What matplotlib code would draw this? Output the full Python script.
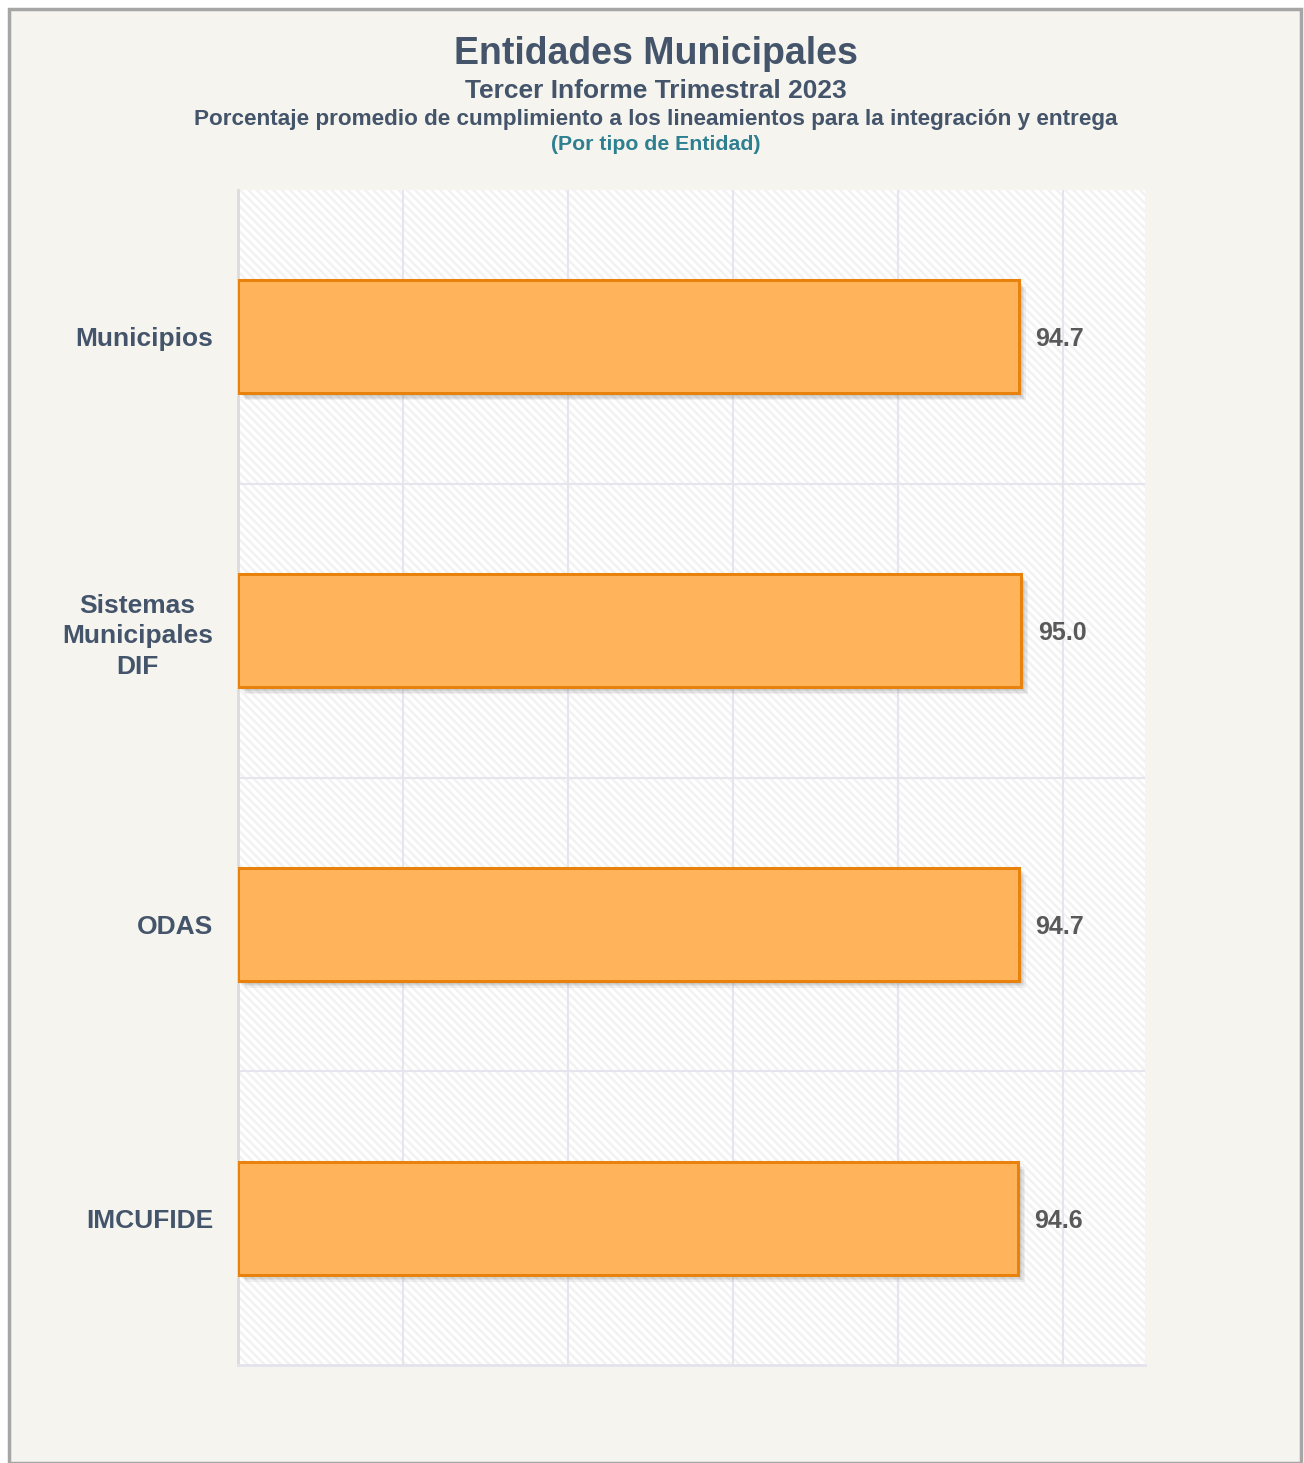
import matplotlib.pyplot as plt
import matplotlib.patheffects as pe
from matplotlib.patches import Rectangle

plt.rcParams['font.family'] = ['Liberation Sans', 'DejaVu Sans']
plt.rcParams['hatch.linewidth'] = 1.8
plt.rcParams['hatch.color'] = '#f2f2f2'

categorias = ['Municipios', 'Sistemas\nMunicipales\nDIF', 'ODAS', 'IMCUFIDE']
valores = [94.7, 95.0, 94.7, 94.6]
etiquetas = ['94.7', '95.0', '94.7', '94.6']

W, H = 1304, 1463
fig = plt.figure(figsize=(W / 100, H / 100), dpi=100)
fig.patch.set_facecolor('white')

# marco exterior
frame = Rectangle((9 / W, 0 / H), (W - 12) / W, (H - 9) / H, transform=fig.transFigure,
                  facecolor='#f5f4ee', edgecolor='#a6a6a6', linewidth=2.5, zorder=-10)
fig.patches.append(frame)

cx = 656 / W
titulo_color = '#44546a'
fig.text(cx, 1 - 54 / H, 'Entidades Municipales', ha='center', va='center',
         fontsize=27, fontweight='bold', color=titulo_color)
fig.text(cx, 1 - 91 / H, 'Tercer Informe Trimestral 2023', ha='center', va='center',
         fontsize=19, fontweight='bold', color=titulo_color)
fig.text(cx, 1 - 120 / H, 'Porcentaje promedio de cumplimiento a los lineamientos para la integración y entrega',
         ha='center', va='center', fontsize=16.2, fontweight='bold', color=titulo_color)
fig.text(cx, 1 - 145 / H, '(Por tipo de Entidad)', ha='center', va='center',
         fontsize=15.3, fontweight='bold', color='#2e8090')

ax = fig.add_axes([238 / W, 1 - 1365 / H, (1145 - 238) / W, (1365 - 190) / H])
ax.set_facecolor('white')
bg = Rectangle((0, 0), 1, 1, transform=ax.transAxes, facecolor='white',
               edgecolor='#f2f2f2', hatch='\\\\\\\\', linewidth=0, zorder=0)
ax.add_patch(bg)

y = list(range(len(categorias)))
bars = ax.barh(y, valores, height=0.385, color='#ffb45c', edgecolor='#e8820c',
               linewidth=2.2, zorder=3)
sombra = [pe.SimplePatchShadow(offset=(d, -d), shadow_rgbFace='#444444', alpha=0.07)
          for d in (1, 2, 3, 4, 5)]
for b in bars:
    b.set_path_effects(sombra + [pe.Normal()])

for yi, v, t in zip(y, valores, etiquetas):
    ax.text(v + 2.0, yi, t, ha='left', va='center_baseline', fontsize=18, fontweight='bold',
            color='#595959', zorder=4)

ax.set_xlim(0, 110)
ax.set_ylim(3.5, -0.5)
ax.set_xticks([0, 20, 40, 60, 80, 100])
ax.set_xticklabels([])
ax.set_yticks(y)
ax.set_yticklabels(categorias, fontsize=19, fontweight='bold', color=titulo_color,
                   ha='right', multialignment='center', linespacing=1.35)
ax.tick_params(axis='y', length=0, pad=18)
ax.tick_params(axis='x', length=0)
ax.set_yticks([0.5, 1.5, 2.5], minor=True)
ax.tick_params(axis='y', which='minor', length=0)
ax.grid(axis='x', color='#e6e5ee', linewidth=1.5, zorder=1)
ax.grid(axis='y', which='minor', color='#e6e5ee', linewidth=1.5, zorder=1)
ax.grid(axis='y', which='major', visible=False)
ax.set_axisbelow(True)

for s in ['top', 'right']:
    ax.spines[s].set_visible(False)
ax.spines['left'].set_color('#dcdcdc')
ax.spines['left'].set_linewidth(2)
ax.spines['bottom'].set_color('#e4e3ec')
ax.spines['bottom'].set_linewidth(2)

fig.savefig('out.png', dpi=100, facecolor=fig.get_facecolor())
